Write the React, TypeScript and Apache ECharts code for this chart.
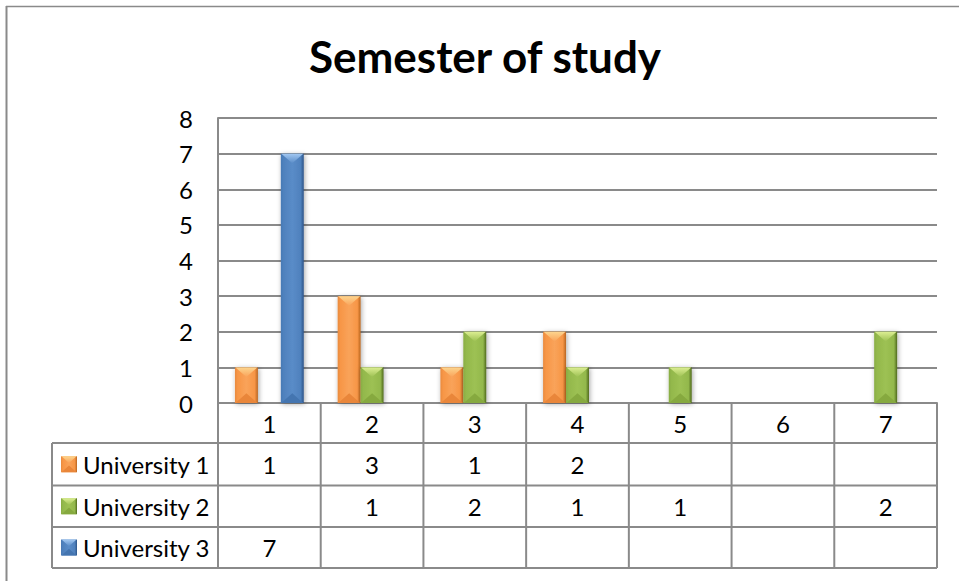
import React, { useEffect, useRef } from "react";
import * as echarts from "echarts";

const TITLE = "Semester of study";
const categories = ["1", "2", "3", "4", "5", "6", "7"];
const seriesNames = ["University 1", "University 2", "University 3"];
const university1: (number | null)[] = [1, 3, 1, 2, null, null, null];
const university2: (number | null)[] = [null, 1, 2, 1, 1, null, 2];
const university3: (number | null)[] = [7, null, null, null, null, null, null];
const Y_MIN = 0;
const Y_MAX = 8;
const Y_INTERVAL = 1;

const allSeries = [university1, university2, university3];

const W = 959;
const H = 581;
const GRID = { left: 218, top: 118, right: 22, bottom: 178 };
const FONT = "Lato, 'Open Sans', sans-serif";
const LINE = "#8a8a8a";
const ROW_Y = [403, 443, 485.5, 527, 568];
const TABLE_LEFT = 52;
const LABEL_SIZE = 24;
const CAT_GAP = 0.33;

const PALETTE = [
  { base: "#F79646", mid: "#F9A35A", light: "#FDD58E", bottom: "#E9863A", left: "#E88A3E", dark: "#B9651F" },
  { base: "#93B84C", mid: "#9DC153", light: "#DCEE92", bottom: "#86A93F", left: "#88AC42", dark: "#4F6A1C" },
  { base: "#4F81BD", mid: "#5A8CC8", light: "#A2C8F2", bottom: "#4475B0", left: "#4879B5", dark: "#2C5488" },
];

function bevelShapes(x0: number, yt: number, w: number, h: number, c: any, shadow: boolean) {
  const x1 = x0 + w;
  const yb = yt + h;
  const cx = x0 + w / 2;
  const d = Math.min(w * 0.42, h / 2);
  return [
    {
      type: "rect",
      shape: { x: x0, y: yt, width: w, height: h },
      style: {
        fill: new echarts.graphic.LinearGradient(0, 0, 1, 0, [
          { offset: 0, color: c.left },
          { offset: 0.12, color: c.base },
          { offset: 0.5, color: c.mid },
          { offset: 0.86, color: c.base },
          { offset: 1, color: c.dark },
        ]),
        ...(shadow
          ? { shadowBlur: 5, shadowColor: "rgba(0,0,0,0.35)", shadowOffsetX: 1, shadowOffsetY: 1 }
          : {}),
      },
    },
    {
      type: "polygon",
      shape: { points: [[x0 + 0.5, yt], [x1 - 0.5, yt], [cx, yt + d]] },
      style: {
        fill: new echarts.graphic.LinearGradient(0, 0, 0, 1, [
          { offset: 0, color: c.light },
          { offset: 1, color: c.mid },
        ]),
      },
    },
    {
      type: "polygon",
      shape: { points: [[x0 + 0.5, yb], [x1 - 0.5, yb], [cx, yb - d]] },
      style: { fill: c.bottom },
    },
  ];
}

function makeRender(si: number) {
  return (params: any, api: any) => {
    const idx = api.value(0);
    const v = api.value(1);
    const top = api.coord([idx, v]);
    const bot = api.coord([idx, 0]);
    const band = api.size([1, 0])[0];
    const bw = (band * (1 - CAT_GAP)) / allSeries.length;
    const cx = top[0] + (si - (allSeries.length - 1) / 2) * bw;
    return {
      type: "group",
      children: bevelShapes(cx - bw / 2, top[1], bw, bot[1] - top[1], PALETTE[si], true),
    };
  };
}

export default function App() {
  const ref = useRef<HTMLDivElement>(null);
  useEffect(() => {
    if (!ref.current) return;
    const chart = echarts.init(ref.current, undefined, { renderer: "svg" });
    const L = GRID.left;
    const R = W - GRID.right;
    const colW = (R - L) / categories.length;

    const graphics: any[] = [];
    // outer border
    graphics.push({ type: "line", shape: { x1: 6, y1: 6.5, x2: W, y2: 6.5 }, style: { stroke: LINE, lineWidth: 1.5 } });
    graphics.push({ type: "line", shape: { x1: 6.5, y1: 6, x2: 6.5, y2: H }, style: { stroke: LINE, lineWidth: 2 } });
    // title
    graphics.push({
      type: "text",
      x: 485,
      y: 56,
      style: { text: TITLE, font: `bold 44px ${FONT}`, fill: "#000", align: "center", verticalAlign: "middle" },
    });
    // table lines
    for (let r = 1; r < ROW_Y.length; r++) {
      graphics.push({ type: "line", shape: { x1: TABLE_LEFT, y1: ROW_Y[r], x2: R, y2: ROW_Y[r] }, style: { stroke: LINE, lineWidth: 2 } });
    }
    graphics.push({ type: "line", shape: { x1: TABLE_LEFT, y1: ROW_Y[1], x2: TABLE_LEFT, y2: ROW_Y[ROW_Y.length - 1] }, style: { stroke: LINE, lineWidth: 2 } });
    for (let k = 0; k <= categories.length; k++) {
      const x = L + k * colW;
      graphics.push({ type: "line", shape: { x1: x, y1: ROW_Y[0], x2: x, y2: ROW_Y[ROW_Y.length - 1] }, style: { stroke: LINE, lineWidth: 2 } });
    }
    // rows
    seriesNames.forEach((name, si) => {
      const yc = (ROW_Y[si + 1] + ROW_Y[si + 2]) / 2;
      graphics.push({ type: "group", children: bevelShapes(61, yc - 8, 16, 16, PALETTE[si], false) });
      graphics.push({
        type: "text",
        x: 83,
        y: yc,
        style: { text: name, font: `${LABEL_SIZE}px ${FONT}`, fill: "#000", align: "left", verticalAlign: "middle" },
      });
      allSeries[si].forEach((v, ci) => {
        if (v == null) return;
        graphics.push({
          type: "text",
          x: L + (ci + 0.5) * colW,
          y: yc,
          style: { text: String(v), font: `${LABEL_SIZE}px ${FONT}`, fill: "#000", align: "center", verticalAlign: "middle" },
        });
      });
    });

    chart.setOption({
      animation: false,
      grid: { left: GRID.left, top: GRID.top, right: GRID.right, bottom: GRID.bottom, containLabel: false },
      xAxis: {
        type: "category",
        data: categories,
        axisLine: { show: true, lineStyle: { color: LINE, width: 2 } },
        axisTick: { show: false },
        axisLabel: { color: "#000", fontSize: LABEL_SIZE, fontFamily: FONT, margin: 20, verticalAlign: "middle" },
        splitLine: { show: false },
      },
      yAxis: {
        type: "value",
        min: Y_MIN,
        max: Y_MAX,
        interval: Y_INTERVAL,
        axisLine: { show: true, lineStyle: { color: LINE, width: 2 } },
        axisTick: { show: false },
        axisLabel: { color: "#000", fontSize: LABEL_SIZE, fontFamily: FONT, margin: 25 },
        splitLine: { show: true, lineStyle: { color: LINE, width: 2 } },
      },
      series: allSeries.map((arr, si) => ({
        type: "custom",
        name: seriesNames[si],
        renderItem: makeRender(si),
        encode: { x: 0, y: 1 },
        data: arr.map((v, i) => (v == null ? null : [i, v])).filter((d) => d !== null),
        z: 3,
      })),
      graphic: graphics,
    });
    return () => chart.dispose();
  }, []);
  return (
    <div
      ref={ref}
      style={{ position: "absolute", left: 0, top: 0, width: W, height: H, background: "#fff" }}
    />
  );
}
